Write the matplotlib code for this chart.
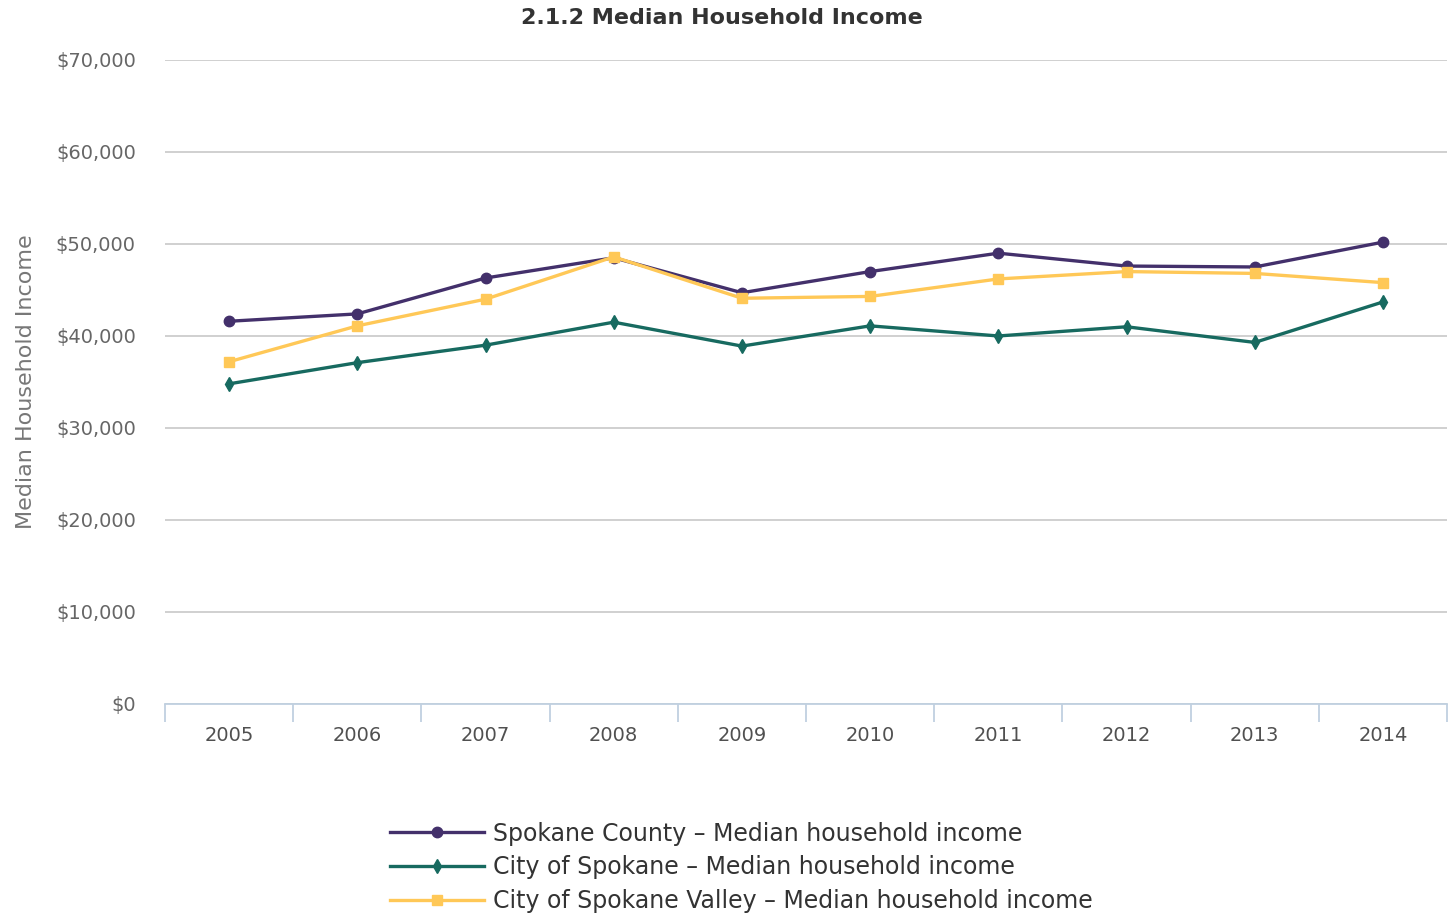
import numpy as np
import matplotlib.pyplot as plt
from matplotlib.ticker import FuncFormatter, FixedLocator

# data
years = ["2005", "2006", "2007", "2008", "2009", "2010", "2011", "2012", "2013", "2014"]
county = [41600, 42400, 46300, 48500, 44700, 47000, 49000, 47600, 47500, 50200]
city = [34800, 37100, 39000, 41500, 38900, 41100, 40000, 41000, 39300, 43700]
valley = [37200, 41100, 44000, 48600, 44100, 44300, 46200, 47000, 46800, 45800]

plt.rcParams['font.family'] = ['DejaVu Sans']

fig = plt.figure(figsize=(14.5, 9.17), dpi=100)
ax = fig.add_axes([0.1138, 0.2323, 0.8842, 0.7023])

x = np.arange(len(years))
ax.plot(x, county, color="#43306B", lw=2.4, marker="o", ms=7.5,
        label="Spokane County – Median household income", zorder=3)
ax.plot(x, city, color="#176A60", lw=2.4, marker="d", ms=7.5,
        label="City of Spokane – Median household income", zorder=3)
ax.plot(x, valley, color="#FFC857", lw=2.4, marker="s", ms=7,
        label="City of Spokane Valley – Median household income", zorder=3)

ax.set_xlim(-0.5, len(years) - 0.5)
ax.set_ylim(0, 70000)
ax.set_yticks(np.arange(0, 70001, 10000))
ax.yaxis.set_major_formatter(FuncFormatter(lambda v, p: "${:,.0f}".format(v)))
ax.grid(axis="y", color="#C8C8C8", lw=1.2)
ax.set_axisbelow(True)

ax.set_xticks(x)
ax.set_xticklabels(years)
ax.xaxis.set_minor_locator(FixedLocator(np.arange(-0.5, len(years), 1.0)))
ax.tick_params(axis="x", which="major", length=0, pad=16, labelsize=14, labelcolor="#505050")
ax.tick_params(axis="x", which="minor", length=13, color="#C0D0E0", width=1.3)
ax.tick_params(axis="y", length=0, pad=21, labelsize=14, labelcolor="#666666")

for s in ["top", "right", "left"]:
    ax.spines[s].set_visible(False)
ax.spines["bottom"].set_color("#C0D0E0")
ax.spines["bottom"].set_linewidth(1.3)

ax.set_ylabel("Median Household Income", fontsize=16, color="#777777", labelpad=14)
fig.suptitle("2.1.2 Median Household Income", x=0.498, y=0.991, fontsize=16,
             fontweight="bold", color="#333333")

leg = fig.legend(loc="upper left", bbox_to_anchor=(0.2607, 0.117), frameon=False,
                 fontsize=17, handlelength=4.0, handletextpad=0.38, labelspacing=0.42,
                 borderpad=0)
for t in leg.get_texts():
    t.set_color("#333333")

fig.savefig("out.png", dpi=100)
